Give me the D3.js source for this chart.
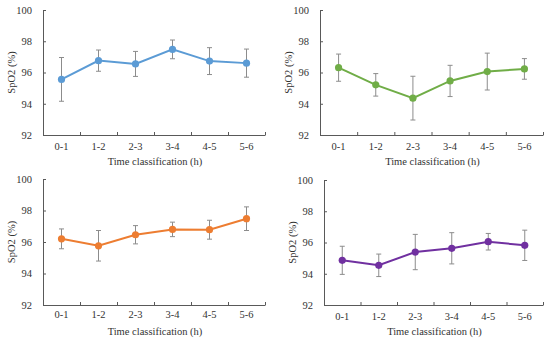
<!DOCTYPE html>
<html>
  <head>
    <meta charset="utf-8">
    <title>SpO2 by time classification</title>
    <script type="text/javascript" src="https://cdn.jsdelivr.net/npm/d3@7"></script>
    <style>
      body { margin: 0; background: #fff; }
      svg text { font-family: "Liberation Serif", "DejaVu Serif", serif; }
    </style>
  </head>
  <body>
    <script type="text/javascript">
      var w = 550
      var h = 340

      // categories and tick labels
      var categories = ["0-1", "1-2", "2-3", "3-4", "4-5", "5-6"];
      var yTicks = [92, 94, 96, 98, 100];

      // mean SpO2 and error (sd) per panel
      var blueMean = [95.56, 96.76, 96.55, 97.48, 96.73, 96.6];
      var blueErr = [1.4, 0.68, 0.8, 0.6, 0.86, 0.9];
      var greenMean = [96.31, 95.21, 94.36, 95.46, 96.06, 96.23];
      var greenErr = [0.87, 0.72, 1.4, 1.0, 1.18, 0.66];
      var orangeMean = [96.2, 95.76, 96.46, 96.8, 96.78, 97.48];
      var orangeErr = [0.63, 0.97, 0.58, 0.46, 0.6, 0.75];
      var purpleMean = [94.86, 94.54, 95.39, 95.63, 96.05, 95.82];
      var purpleErr = [0.9, 0.72, 1.13, 1.0, 0.53, 0.97];

      var panels = [
        {mean: blueMean, err: blueErr, color: "#5b9bd5", left: 43, right: 265, top: 10, bottom: 135, pad: 8, title: "Time classification  (h)"},
        {mean: greenMean, err: greenErr, color: "#70ad47", left: 320, right: 543, top: 10, bottom: 135, pad: 8, title: "Time classification  (h)"},
        {mean: orangeMean, err: orangeErr, color: "#ed7d31", left: 43, right: 265, top: 179, bottom: 305, pad: 6, title: "Time classification (h)"},
        {mean: purpleMean, err: purpleErr, color: "#7030a0", left: 324, right: 543, top: 180, bottom: 305, pad: 8, title: "Time classification  (h)"}
      ];

      var svg = d3.select("body").append("svg")
        .attr("width", w)
        .attr("height", h);

      panels.forEach(function(p) {
        var g = svg.append("g");

        var x = d3.scaleBand()
          .domain(categories)
          .range([p.left, p.right]);
        var xb = d3.scaleLinear()
          .domain([0, categories.length])
          .range([p.left, p.right]);
        var y = d3.scaleLinear()
          .domain([92, 100])
          .range([p.bottom, p.top]);

        // y axis
        var ya = g.append("g")
          .attr("transform", "translate(" + p.left + ",0)")
          .call(d3.axisLeft(y).tickValues(yTicks).tickSizeInner(-3).tickSizeOuter(0).tickPadding(11));
        ya.attr("font-family", null);
        ya.select(".domain").attr("stroke", "#595959");
        ya.selectAll(".tick line").attr("stroke", "#595959");
        ya.selectAll(".tick text").attr("font-size", 10.5).attr("fill", "#333");

        // x axis labels
        var xa = g.append("g")
          .attr("transform", "translate(0," + p.bottom + ")")
          .call(d3.axisBottom(x).tickSize(0).tickPadding(p.pad).tickSizeOuter(0));
        xa.attr("font-family", null);
        xa.select(".domain").attr("stroke", "#595959");
        xa.selectAll(".tick text").attr("font-size", 10.5).attr("fill", "#333");

        // x axis ticks between categories
        var xt = g.append("g")
          .attr("transform", "translate(0," + p.bottom + ")")
          .call(d3.axisBottom(xb).tickValues(d3.range(1, categories.length + 1)).tickSize(-3).tickFormat(""));
        xt.select(".domain").remove();
        xt.selectAll(".tick line").attr("stroke", "#595959");

        // axis titles
        g.append("text")
          .attr("x", (p.left + p.right) / 2 + 1)
          .attr("y", p.bottom + 30)
          .attr("text-anchor", "middle")
          .attr("font-size", 10.5)
          .attr("fill", "#333")
          .text(p.title);
        g.append("text")
          .attr("transform", "translate(" + (p.left - 28) + "," + ((p.top + p.bottom) / 2) + ") rotate(-90)")
          .attr("text-anchor", "middle")
          .attr("font-size", 10.5)
          .attr("fill", "#333")
          .text("SpO2 (%)");

        var data = p.mean.map(function(m, i) {
          return {cat: categories[i], mean: m, err: p.err[i]};
        });
        var cx = function(d) { return x(d.cat) + x.bandwidth() / 2; };

        // error bars
        var eb = g.selectAll(".err")
          .data(data)
          .enter()
          .append("g")
          .attr("stroke", "#8c8c8c")
          .attr("stroke-width", 1);
        eb.append("line")
          .attr("x1", cx).attr("x2", cx)
          .attr("y1", function(d) { return y(d.mean + d.err); })
          .attr("y2", function(d) { return y(d.mean - d.err); });
        eb.append("line")
          .attr("x1", function(d) { return cx(d) - 2.5; })
          .attr("x2", function(d) { return cx(d) + 2.5; })
          .attr("y1", function(d) { return y(d.mean + d.err); })
          .attr("y2", function(d) { return y(d.mean + d.err); });
        eb.append("line")
          .attr("x1", function(d) { return cx(d) - 2.5; })
          .attr("x2", function(d) { return cx(d) + 2.5; })
          .attr("y1", function(d) { return y(d.mean - d.err); })
          .attr("y2", function(d) { return y(d.mean - d.err); });

        // line
        var line = d3.line()
          .x(cx)
          .y(function(d) { return y(d.mean); });
        g.append("path")
          .datum(data)
          .attr("d", line)
          .attr("fill", "none")
          .attr("stroke", p.color)
          .attr("stroke-width", 2);

        // markers
        g.selectAll(".dot")
          .data(data)
          .enter()
          .append("circle")
          .attr("cx", cx)
          .attr("cy", function(d) { return y(d.mean); })
          .attr("r", 3.6)
          .attr("fill", p.color);
      });
    </script>
  </body>
</html>
